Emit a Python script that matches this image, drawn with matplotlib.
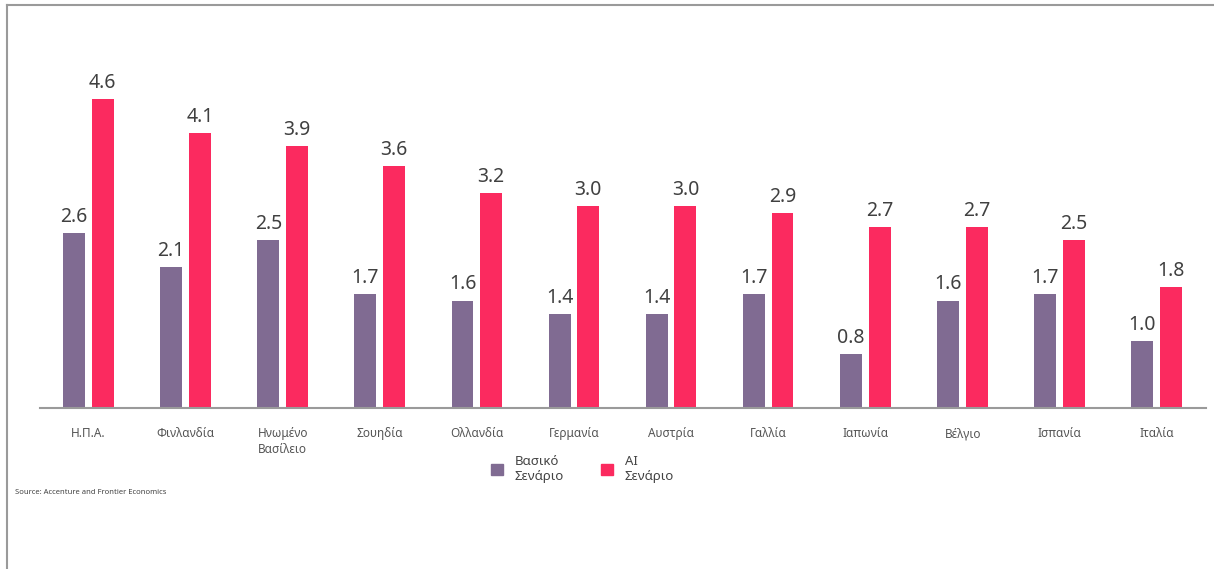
import numpy as np
import matplotlib
matplotlib.use("Agg")
import matplotlib.pyplot as plt
from matplotlib.lines import Line2D
from matplotlib.patches import Patch

plt.rcParams['font.family'] = ['Noto Sans', 'DejaVu Sans']

countries = ['Η.Π.Α.', 'Φινλανδία', 'Ηνωμένο\nΒασίλειο', 'Σουηδία', 'Ολλανδία', 'Γερμανία',
             'Αυστρία', 'Γαλλία', 'Ιαπωνία', 'Βέλγιο', 'Ισπανία', 'Ιταλία']
baseline = [2.6, 2.1, 2.5, 1.7, 1.6, 1.4, 1.4, 1.7, 0.8, 1.6, 1.7, 1.0]
ai_scenario = [4.6, 4.1, 3.9, 3.6, 3.2, 3.0, 3.0, 2.9, 2.7, 2.7, 2.5, 1.8]
series_names = ['Βασικό\nΣενάριο', 'AI\nΣενάριο']

purple = '#806b92'
pink = '#fb2a5f'

fig = plt.figure(figsize=(12.14, 5.69), dpi=100)
ax = fig.add_axes([0.033, 0.283, 0.96, 0.664])

x = np.arange(len(countries))
w = 0.225
b1 = ax.bar(x - 0.15, baseline, w, color=purple)
b2 = ax.bar(x + 0.145, ai_scenario, w, color=pink)

for bars, vals in ((b1, baseline), (b2, ai_scenario)):
    for rect, v in zip(bars, vals):
        ax.text(rect.get_x() + rect.get_width() / 2, v + 0.09, f'{v:.1f}',
                ha='center', va='bottom', fontsize=14, color='#404040')

ax.set_xlim(-0.5, 11.5)
ax.set_ylim(0, 5.625)
ax.set_xticks(x)
ax.set_xticklabels(countries, fontsize=8.5, color='#555555', linespacing=1.25)
ax.tick_params(axis='x', length=0, pad=14)
ax.set_yticks([])
for s in ['top', 'right', 'left']:
    ax.spines[s].set_visible(False)
ax.spines['bottom'].set_color('#9a9a9a')
ax.spines['bottom'].set_linewidth(1.5)

handles = [Patch(color=purple), Patch(color=pink)]
fig.legend(handles, series_names, loc='center', bbox_to_anchor=(0.48, 0.175),
           ncol=2, frameon=False, fontsize=9.5, handlelength=0.9, handleheight=0.9,
           columnspacing=2.8, handletextpad=0.9, labelcolor='#444444')

fig.text(0.012, 0.135, 'Source: Accenture and Frontier Economics', fontsize=5.5, color='#444444',
         va='center', ha='left')

# frame of the original picture (top and left edges)
fig.add_artist(Line2D([0.006, 1.0], [0.991, 0.991], color='#9a9a9a', lw=1.5, transform=fig.transFigure))
fig.add_artist(Line2D([0.006, 0.006], [0.0, 0.991], color='#9a9a9a', lw=1.5, transform=fig.transFigure))

fig.savefig('out.png', dpi=100)
